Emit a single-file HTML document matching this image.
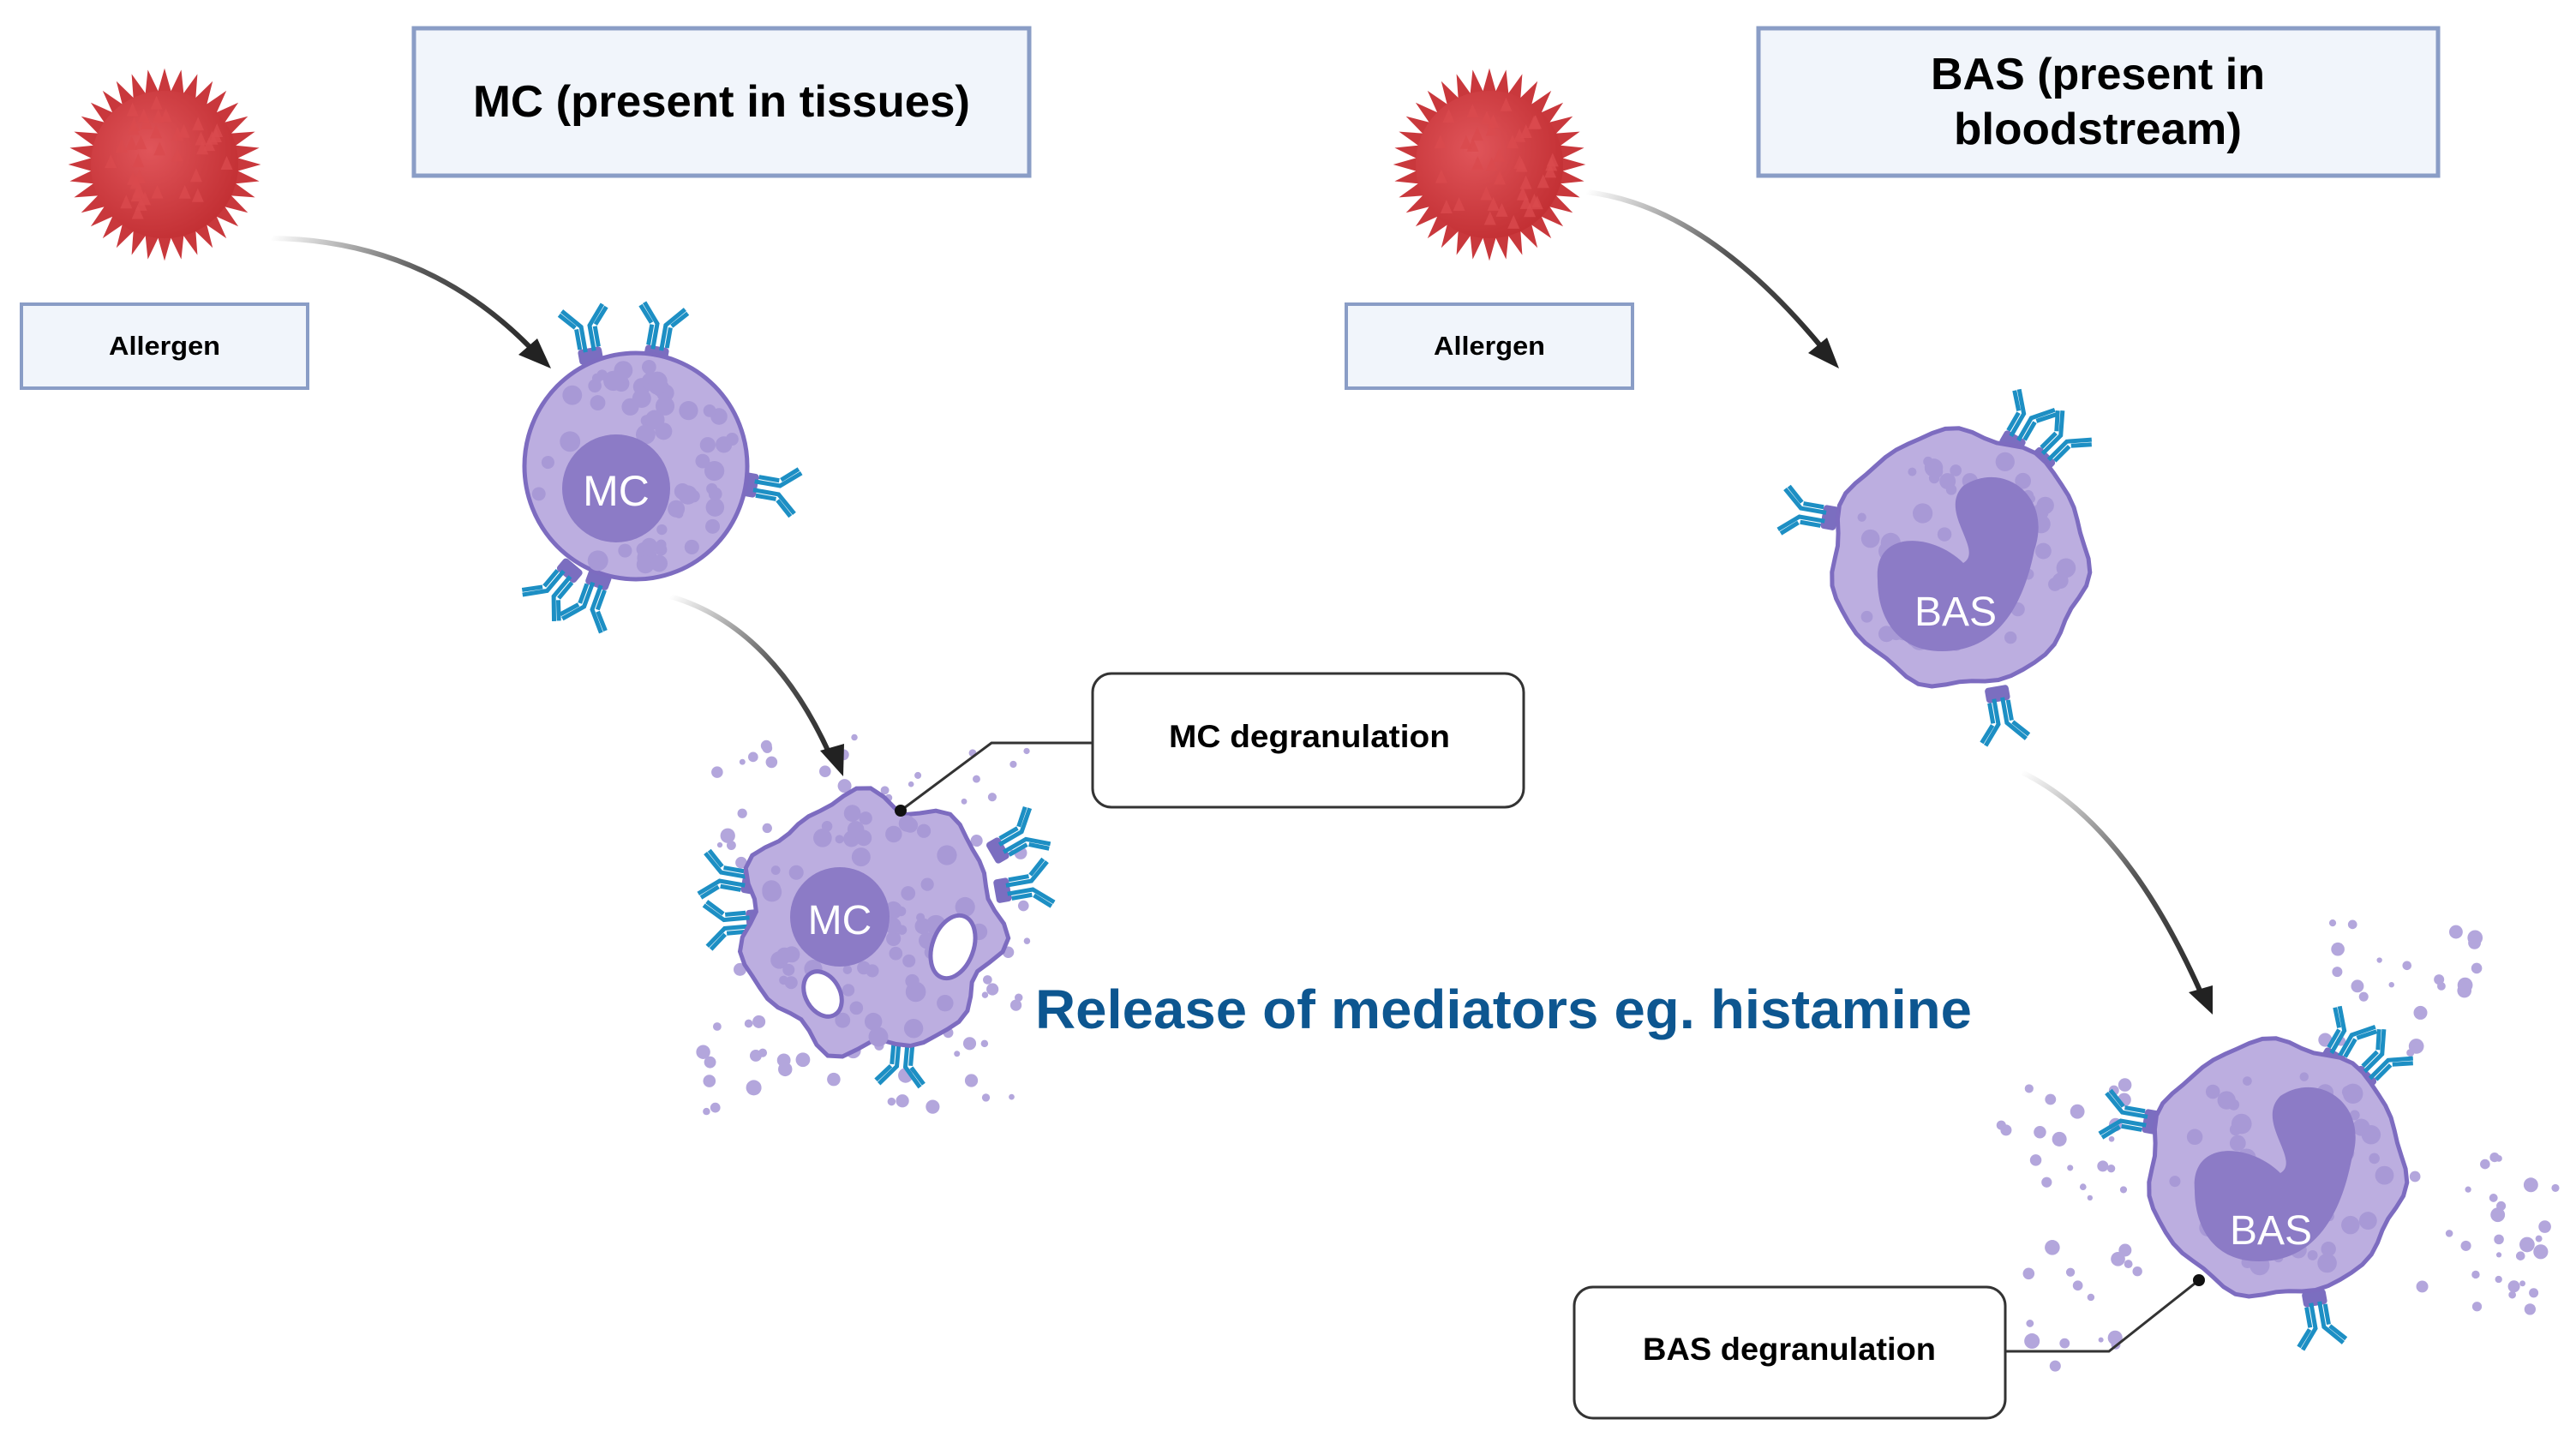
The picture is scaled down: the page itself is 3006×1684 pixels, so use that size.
<!DOCTYPE html>
<html><head><meta charset="utf-8"><style>
html,body{margin:0;padding:0;background:#fff;}
svg{display:block;}
text{font-family:"Liberation Sans",sans-serif;}
</style></head><body>
<svg id="s" width="3006" height="1684" viewBox="0 0 3006 1684" xmlns="http://www.w3.org/2000/svg">
<defs>
<linearGradient id="ga1" gradientUnits="userSpaceOnUse" x1="316" y1="278" x2="643" y2="426"><stop offset="0" stop-color="#fff"/><stop offset="0.5" stop-color="#555"/><stop offset="1" stop-color="#222"/></linearGradient>
<linearGradient id="ga2" gradientUnits="userSpaceOnUse" x1="782" y1="696" x2="982" y2="901"><stop offset="0" stop-color="#fff"/><stop offset="0.5" stop-color="#555"/><stop offset="1" stop-color="#222"/></linearGradient>
<linearGradient id="ga3" gradientUnits="userSpaceOnUse" x1="1851" y1="224" x2="2142" y2="426"><stop offset="0" stop-color="#fff"/><stop offset="0.5" stop-color="#555"/><stop offset="1" stop-color="#222"/></linearGradient>
<linearGradient id="ga4" gradientUnits="userSpaceOnUse" x1="2359" y1="901" x2="2580" y2="1180"><stop offset="0" stop-color="#fff"/><stop offset="0.5" stop-color="#555"/><stop offset="1" stop-color="#222"/></linearGradient>
<radialGradient id="red" cx="0.4" cy="0.4" r="0.7"><stop offset="0" stop-color="#e0555a"/><stop offset="1" stop-color="#c02c30"/></radialGradient>
</defs>
<g id="bg"></g>
<rect x="483" y="33" width="718" height="172" fill="#f1f5fb" stroke="#8a9dc6" stroke-width="5"/>
<text x="842" y="136" font-size="52" font-weight="bold" text-anchor="middle" textLength="580" lengthAdjust="spacingAndGlyphs">MC (present in tissues)</text>
<rect x="25" y="355" width="334" height="98" fill="#f1f5fb" stroke="#8a9dc6" stroke-width="4"/>
<text x="192" y="414" font-size="31" font-weight="bold" text-anchor="middle" textLength="130" lengthAdjust="spacingAndGlyphs">Allergen</text>
<rect x="1571" y="355" width="334" height="98" fill="#f1f5fb" stroke="#8a9dc6" stroke-width="4"/>
<text x="1738" y="414" font-size="31" font-weight="bold" text-anchor="middle" textLength="130" lengthAdjust="spacingAndGlyphs">Allergen</text>
<rect x="2052" y="33" width="793" height="172" fill="#f1f5fb" stroke="#8a9dc6" stroke-width="5"/>
<text x="2448" y="104" font-size="52" font-weight="bold" text-anchor="middle" textLength="390" lengthAdjust="spacingAndGlyphs">BAS (present in</text>
<text x="2448" y="168" font-size="52" font-weight="bold" text-anchor="middle" textLength="336" lengthAdjust="spacingAndGlyphs">bloodstream)</text>
<rect x="1275" y="786" width="503" height="156" rx="22" fill="#fff" stroke="#333" stroke-width="3"/>
<text x="1528" y="872" font-size="37" font-weight="bold" text-anchor="middle" textLength="328" lengthAdjust="spacingAndGlyphs">MC degranulation</text>
<rect x="1837" y="1502" width="503" height="153" rx="22" fill="#fff" stroke="#333" stroke-width="3"/>
<text x="2088" y="1587" font-size="37" font-weight="bold" text-anchor="middle" textLength="342" lengthAdjust="spacingAndGlyphs">BAS degranulation</text>
<text x="1208" y="1200" font-size="64" font-weight="bold" fill="#0d5690" textLength="1093" lengthAdjust="spacingAndGlyphs">Release of mediators eg. histamine</text>
<path d="M316 278 Q500 280 625 412" fill="none" stroke="url(#ga1)" stroke-width="6"/>
<polygon points="643,430 605,414 627,395" fill="#222"/>
<path d="M782 696 Q900 730 968 880" fill="none" stroke="url(#ga2)" stroke-width="6"/>
<polygon points="984,906 957,876 985,868" fill="#222"/>
<path d="M1851 224 Q1990 240 2128 408" fill="none" stroke="url(#ga3)" stroke-width="6"/>
<polygon points="2146,430 2110,412 2132,394" fill="#222"/>
<path d="M2359 901 Q2480 960 2568 1158" fill="none" stroke="url(#ga4)" stroke-width="6"/>
<polygon points="2582,1184 2554,1158 2582,1150" fill="#222"/>
<g id="fg"></g>
<polyline points="1051,946 1157,867 1275,867" fill="none" stroke="#333" stroke-width="3"/>
<circle cx="1051" cy="946" r="7" fill="#111"/>
<polyline points="2340,1577 2461,1577 2566,1494" fill="none" stroke="#333" stroke-width="3"/>
<circle cx="2566" cy="1494" r="7" fill="#111"/>
</svg>
<script>
var NS="http://www.w3.org/2000/svg";
var bg=document.getElementById('bg'),fg=document.getElementById('fg');
var seed=7;function rnd(){seed=(seed*16807)%2147483647;return seed/2147483647;}
function el(p,t,a){var e=document.createElementNS(NS,t);for(var k in a)e.setAttribute(k,a[k]);p.appendChild(e);return e;}
function allergen(cx,cy,r){
 var pts=[];var n=36;
 for(var i=0;i<n*2;i++){var a=i*Math.PI/n;var rr=(i%2==0)?r*1.07:r*0.82;pts.push((cx+rr*Math.cos(a)).toFixed(1)+','+(cy+rr*Math.sin(a)).toFixed(1));}
 el(fg,'polygon',{points:pts.join(' '),fill:'#c9383c'});
 el(fg,'circle',{cx:cx,cy:cy,r:r*0.82,fill:'url(#red)'});
 for(var i=0;i<40;i++){var a=rnd()*6.28,d=Math.sqrt(rnd())*r*0.72;var x=cx+d*Math.cos(a),y=cy+d*Math.sin(a);
  el(fg,'polygon',{points:(x-7)+','+(y+6)+' '+(x+7)+','+(y+6)+' '+x+','+(y-10),fill:'#d94a4e',opacity:0.8});}
}
allergen(192,192,105);allergen(1738,192,105);
function blob(cx,cy,r,wob,col,stroke){
 var d='';for(var i=0;i<=60;i++){var a=i/60*6.283;var rr=r*(1+wob*Math.sin(a*7+1)+wob*0.6*Math.sin(a*11));d+=(i?'L':'M')+(cx+rr*Math.cos(a)).toFixed(1)+' '+(cy+rr*Math.sin(a)).toFixed(1);}
 return el(fg,'path',{d:d+'Z',fill:col,stroke:stroke,'stroke-width':5});
}
function granules(cx,cy,rx,ry,n,col,excl){
 for(var i=0;i<n;i++){var a=rnd()*6.283,d=Math.sqrt(rnd());var x=cx+d*rx*Math.cos(a),y=cy+d*ry*Math.sin(a);
  if(excl&&Math.hypot(x-excl[0],y-excl[1])<excl[2])continue;
  el(fg,'circle',{cx:x,cy:y,r:5+rnd()*7,fill:col});}
}
function ab(x,y,ang){
 var g=el(fg,'g',{transform:'translate('+x+','+y+') rotate('+ang+')'});
 el(g,'rect',{x:-4,y:-14,width:18,height:28,rx:4,fill:'#7b6ec0'});
 el(g,'path',{d:'M10 -5 L40 -5 L62 -24 M10 5 L40 5 L62 24 M40 -12 L58 -28 M40 12 L58 28 M14 -11 L38 -11 M14 11 L38 11',stroke:'#1d8fc4','stroke-width':5,fill:'none'});
}
function dots(cx,cy,w,h,n){for(var i=0;i<n;i++){el(bg,'circle',{cx:cx+(rnd()-0.5)*w,cy:cy+(rnd()-0.5)*h,r:3+rnd()*6,fill:'#b3a6dc'});}}
ab(690,420,-100);ab(765,418,-80);ab(870,565,10);ab(668,662,130);ab(700,672,110);
el(fg,'ellipse',{cx:742,cy:544,rx:130,ry:132,fill:'#bcaee0',stroke:'#7d6cc0','stroke-width':5});
granules(742,544,118,120,80,'#a899d6',[719,570,70]);
el(fg,'circle',{cx:719,cy:570,r:63,fill:'#8c7bc6'});
el(fg,'text',{x:719,y:590,'font-size':50,fill:'#fff','text-anchor':'middle'}).textContent='MC';
dots(1010,1080,380,440,110);
ab(880,1030,190);ab(885,1075,175);ab(1160,995,-30);ab(1165,1040,-10);ab(1055,1205,95);
blob(1016,1078,148,0.06,'#bcaee0','#7d6cc0');
granules(1016,1078,130,135,80,'#a899d6',[980,1070,62]);
el(fg,'ellipse',{cx:1112,cy:1105,rx:24,ry:38,fill:'#fff',stroke:'#7d6cc0','stroke-width':5,transform:'rotate(20 1112 1105)'});
el(fg,'ellipse',{cx:960,cy:1160,rx:20,ry:28,fill:'#fff',stroke:'#7d6cc0','stroke-width':5,transform:'rotate(-30 960 1160)'});
el(fg,'circle',{cx:980,cy:1070,r:58,fill:'#8c7bc6'});
el(fg,'text',{x:980,y:1090,'font-size':48,fill:'#fff','text-anchor':'middle'}).textContent='MC';
function bas(cx,cy){
 blob(cx,cy,148,0.025,'#bcaee0','#7d6cc0');
 granules(cx,cy,128,128,55,'#a899d6',null);
 el(fg,'path',{d:'M'+(cx-95)+' '+(cy+25)+' C'+(cx-100)+' '+(cy-35)+' '+(cx-30)+' '+(cy-30)+' '+(cx+5)+' '+(cy+5)+' C'+(cx+30)+' '+(cy-10)+' '+(cx-25)+' '+(cy-55)+' '+(cx+5)+' '+(cy-85)+' C'+(cx+50)+' '+(cy-115)+' '+(cx+110)+' '+(cy-75)+' '+(cx+88)+' '+(cy-10)+' C'+(cx+75)+' '+(cy+55)+' '+(cx+45)+' '+(cy+108)+' '+(cx-20)+' '+(cy+108)+' C'+(cx-75)+' '+(cy+108)+' '+(cx-95)+' '+(cy+65)+' '+(cx-95)+' '+(cy+25)+'Z',fill:'#8c7bc6'});
}
ab(2346,520,-60);ab(2380,540,-45);ab(2140,605,190);ab(2330,805,80);
bas(2286,652);
el(fg,'text',{x:2282,y:730,'font-size':48,fill:'#fff','text-anchor':'middle'}).textContent='BAS';
dots(2810,1150,220,160,22);dots(2900,1440,170,180,28);dots(2410,1330,150,160,20);dots(2430,1530,130,150,16);
ab(2720,1240,-60);ab(2755,1262,-45);ab(2515,1310,190);ab(2700,1510,80);
bas(2656,1364);
el(fg,'text',{x:2650,y:1452,'font-size':48,fill:'#fff','text-anchor':'middle'}).textContent='BAS';
</script>
</body></html>
